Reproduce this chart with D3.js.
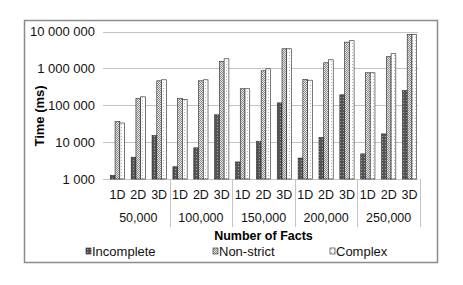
<!DOCTYPE html>
<html>
<head>
<meta charset="utf-8">
<script src="https://cdn.jsdelivr.net/npm/d3@7"></script>
<style>
  body { margin: 0; background: #fff; }
  text { font-family: "Liberation Sans", Arial, sans-serif; }
</style>
</head>
<body>
<svg width="463" height="285"></svg>
<script>
const groups = ["50,000", "100,000", "150,000", "200,000", "250,000"];
const dims = ["1D", "2D", "3D"];
const series = ["Incomplete", "Non-strict", "Complex"];

// values per group, in order 1D, 2D, 3D
const incomplete = [
  [1250, 3900, 15000],
  [2150, 7000, 55000],
  [2900, 10300, 116000],
  [3700, 13300, 192000],
  [4800, 16700, 250000]
];
const nonStrict = [
  [36000, 152000, 460000],
  [152000, 460000, 1540000],
  [280000, 860000, 3400000],
  [500000, 1420000, 5150000],
  [760000, 2070000, 8200000]
];
const complex = [
  [33000, 169000, 490000],
  [143000, 490000, 1820000],
  [280000, 975000, 3400000],
  [478000, 1710000, 5620000],
  [760000, 2500000, 8200000]
];
const yTicks = [1000, 10000, 100000, 1000000, 10000000];

const svg = d3.select("svg");
const defs = svg.append("defs");

// Patterns for the three series
const p1 = defs.append("pattern").attr("id", "pInc")
  .attr("patternUnits", "userSpaceOnUse").attr("width", 3).attr("height", 3);
p1.append("rect").attr("width", 3).attr("height", 3).attr("fill", "#555");
p1.append("rect").attr("x", 1).attr("y", 1).attr("width", 1).attr("height", 1).attr("fill", "#aaa");

const p2 = defs.append("pattern").attr("id", "pNs")
  .attr("patternUnits", "userSpaceOnUse").attr("width", 2).attr("height", 2);
p2.append("rect").attr("width", 2).attr("height", 2).attr("fill", "#e8e8e8");
p2.append("rect").attr("width", 1).attr("height", 1).attr("fill", "#8a8a8a");
p2.append("rect").attr("x", 1).attr("y", 1).attr("width", 1).attr("height", 1).attr("fill", "#8a8a8a");

const p3 = defs.append("pattern").attr("id", "pCx")
  .attr("patternUnits", "userSpaceOnUse").attr("width", 3).attr("height", 3);
p3.append("rect").attr("width", 3).attr("height", 3).attr("fill", "#ffffff");
p3.append("rect").attr("x", 1).attr("y", 1).attr("width", 1).attr("height", 1).attr("fill", "#b5b5b5");

const fills = ["url(#pInc)", "url(#pNs)", "url(#pCx)"];

// outer border
svg.append("rect")
  .attr("x", 24.5).attr("y", 20.5)
  .attr("width", 413).attr("height", 242)
  .attr("fill", "none").attr("stroke", "#8c8c8c").attr("stroke-width", 1.5);

const plotLeft = 107, plotRight = 420, plotTop = 31.5, plotBottom = 179;

const y = d3.scaleLog().domain([1000, 10000000]).range([plotBottom, plotTop]);
const x0 = d3.scaleBand().domain(groups).range([plotLeft, plotRight]);
const x1 = d3.scaleBand().domain(dims).range([0, x0.bandwidth()]);
const x2 = d3.scaleBand().domain(series).range([0, x1.bandwidth()]).paddingOuter(0.7);

// gridlines
svg.append("g").selectAll("line").data(yTicks).join("line")
  .attr("x1", 103).attr("x2", 418)
  .attr("y1", d => Math.round(y(d)) + 0.5).attr("y2", d => Math.round(y(d)) + 0.5)
  .attr("stroke", "#c4c4c4");

// y axis labels
const fmt = d => d3.format(",")(d).replace(/,/g, " ");
svg.append("g").selectAll("text").data(yTicks).join("text")
  .attr("x", 95).attr("y", d => y(d)).attr("dy", "0.35em")
  .attr("text-anchor", "end").attr("font-size", 13).attr("fill", "#111")
  .text(fmt);

svg.append("text")
  .attr("transform", "translate(44,116) rotate(-90)")
  .attr("text-anchor", "middle").attr("font-size", 13).attr("font-weight", "bold")
  .text("Time (ms)");

// bars
const allData = [incomplete, nonStrict, complex];
const bars = [];
groups.forEach((g, gi) => dims.forEach((dd, di) => series.forEach((s, si) => {
  bars.push({ g, d: dd, s, si, v: allData[si][gi][di] });
})));

svg.append("g").selectAll("rect").data(bars).join("rect")
  .attr("x", d => x0(d.g) + x1(d.d) + x2(d.s))
  .attr("y", d => y(d.v))
  .attr("width", x2.bandwidth())
  .attr("height", d => plotBottom - y(d.v))
  .attr("fill", d => fills[d.si])
  .attr("stroke", "#222").attr("stroke-width", 0.6);

// category separators
svg.append("g").selectAll("line").data(groups.slice(1).map(g => x0(g)).concat([plotRight])).join("line")
  .attr("x1", d => Math.round(d) + 0.5).attr("x2", d => Math.round(d) + 0.5)
  .attr("y1", plotBottom).attr("y2", 227)
  .attr("stroke", "#c4c4c4");

// sub labels
const subs = [];
groups.forEach(g => dims.forEach(dd => subs.push({ g, d: dd })));
svg.append("g").selectAll("text").data(subs).join("text")
  .attr("x", d => x0(d.g) + x1(d.d) + x1.bandwidth() / 2)
  .attr("y", 195).attr("dy", "0.35em")
  .attr("text-anchor", "middle").attr("font-size", 12.5).attr("fill", "#111")
  .text(d => d.d);

svg.append("g").selectAll("text").data(groups).join("text")
  .attr("x", d => x0(d) + x0.bandwidth() / 2)
  .attr("y", 218).attr("dy", "0.35em")
  .attr("text-anchor", "middle").attr("font-size", 12.5).attr("fill", "#111")
  .text(d => d);

svg.append("text")
  .attr("x", (plotLeft + plotRight) / 2).attr("y", 236).attr("dy", "0.35em")
  .attr("text-anchor", "middle").attr("font-size", 12.5).attr("font-weight", "bold")
  .text("Number of Facts");

// legend
const legX = [86, 213, 330];
const leg = svg.append("g").selectAll("g").data(series).join("g")
  .attr("transform", (d, i) => `translate(${legX[i]},251)`);
leg.append("rect")
  .attr("x", 0).attr("y", -3).attr("width", 5).attr("height", 6)
  .attr("fill", (d, i) => fills[i]).attr("stroke", "#222").attr("stroke-width", 0.6);
leg.append("text")
  .attr("x", 6).attr("y", 0.5).attr("dy", "0.35em")
  .attr("font-size", 13).attr("fill", "#111")
  .text(d => d);
</script>
</body>
</html>
